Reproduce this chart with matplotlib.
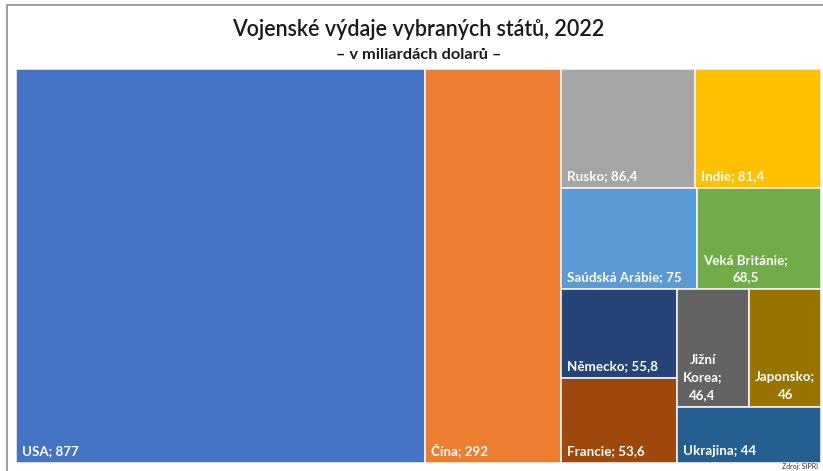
import matplotlib.pyplot as plt
from matplotlib.patches import Rectangle

plt.rcParams['font.family'] = ['Lato', 'DejaVu Sans']

# Data (mld. USD, 2022, SIPRI)
countries = ["USA", "Čína", "Rusko", "Indie", "Saúdská Arábie", "Veká Británie",
             "Německo", "Francie", "Jižní Korea", "Japonsko", "Ukrajina"]
values = [877, 292, 86.4, 81.4, 75, 68.5, 55.8, 53.6, 46.4, 46, 44]
colors = ["#4472C4", "#ED7D31", "#A5A5A5", "#FFC000", "#5B9BD5", "#70AD47",
          "#264478", "#9E480E", "#636363", "#997300", "#255E91"]


def fmt(v):
    return (f"{v:g}").replace(".", ",")


def worst(row, side):
    s = sum(row)
    return max(max(side ** 2 * r / s ** 2, s ** 2 / (side ** 2 * r)) for r in row)


# squarified treemap (rows only take items of similar size, like Excel does)
def squarify(vals, x, y, w, h):
    scale = w * h / sum(vals)
    areas = [v * scale for v in vals]
    rects = []
    i = 0
    while i < len(areas):
        side = min(w, h)
        row = [areas[i]]
        i += 1
        while (i < len(areas) and areas[i] >= row[0] / 2
               and worst(row + [areas[i]], side) <= worst(row, side)):
            row.append(areas[i])
            i += 1
        s = sum(row)
        if w >= h:
            t = s / h
            yy = y
            for a in row:
                rects.append((x, yy, t, a / t))
                yy += a / t
            x += t
            w -= t
        else:
            t = s / w
            xx = x
            for a in row:
                rects.append((xx, y, a / t, t))
                xx += a / t
            y += t
            h -= t
    return rects


fig = plt.figure(figsize=(8.23, 4.71), dpi=100)
W, H = 805, 394
ax = fig.add_axes([16 / 823, 8 / 471, W / 823, H / 471])
ax.set_xlim(0, W)
ax.set_ylim(H, 0)
ax.axis("off")

# ramecek grafu
fig.patches.append(Rectangle((7 / 823, -0.1), 1.2, (471 - 5) / 471 + 0.1,
                             transform=fig.transFigure, fill=False,
                             edgecolor="#8c8c8c", linewidth=1.2))

renderer = fig.canvas.get_renderer()
pad = 6
lab_size = 9.6


def text_w(s):
    t = ax.text(0, 0, s, fontsize=lab_size, fontweight="bold")
    wd = t.get_window_extent(renderer).width
    t.remove()
    return wd


def wrap(s, maxw):
    words = s.split()
    lines = [words[0]]
    for wd in words[1:]:
        if text_w(lines[-1] + " " + wd) <= maxw:
            lines[-1] += " " + wd
        else:
            lines.append(wd)
    return "\n".join(lines)


for (x, y, w, h), name, v, c in zip(squarify(values, 0, 0, W, H), countries, values, colors):
    ax.add_patch(Rectangle((x, y), w, h, facecolor=c, edgecolor="#f2f2f2", linewidth=1.2))
    label = wrap(f"{name}; {fmt(v)}", w - 2 * pad)
    ax.text(x + pad, y + h - 6, label, color="white", fontsize=lab_size,
            fontweight="bold", ha="left", va="bottom", multialignment="center",
            linespacing=1.55)

fig.text(0.5085, 1 - 30 / 471, "Vojenské výdaje vybraných států, 2022",
         ha="center", va="center", fontsize=15.5, fontweight="semibold", color="#1a1a1a")
fig.text(0.5085, 1 - 55 / 471, "– v miliardách dolarů –",
         ha="center", va="center", fontsize=11.8, fontweight="bold", color="#1a1a1a")
fig.text(818 / 823, 1 - 467 / 471, "Zdroj: SIPRI", ha="right", va="center",
         fontsize=5, color="#333333")

fig.savefig("out.png", dpi=100)
